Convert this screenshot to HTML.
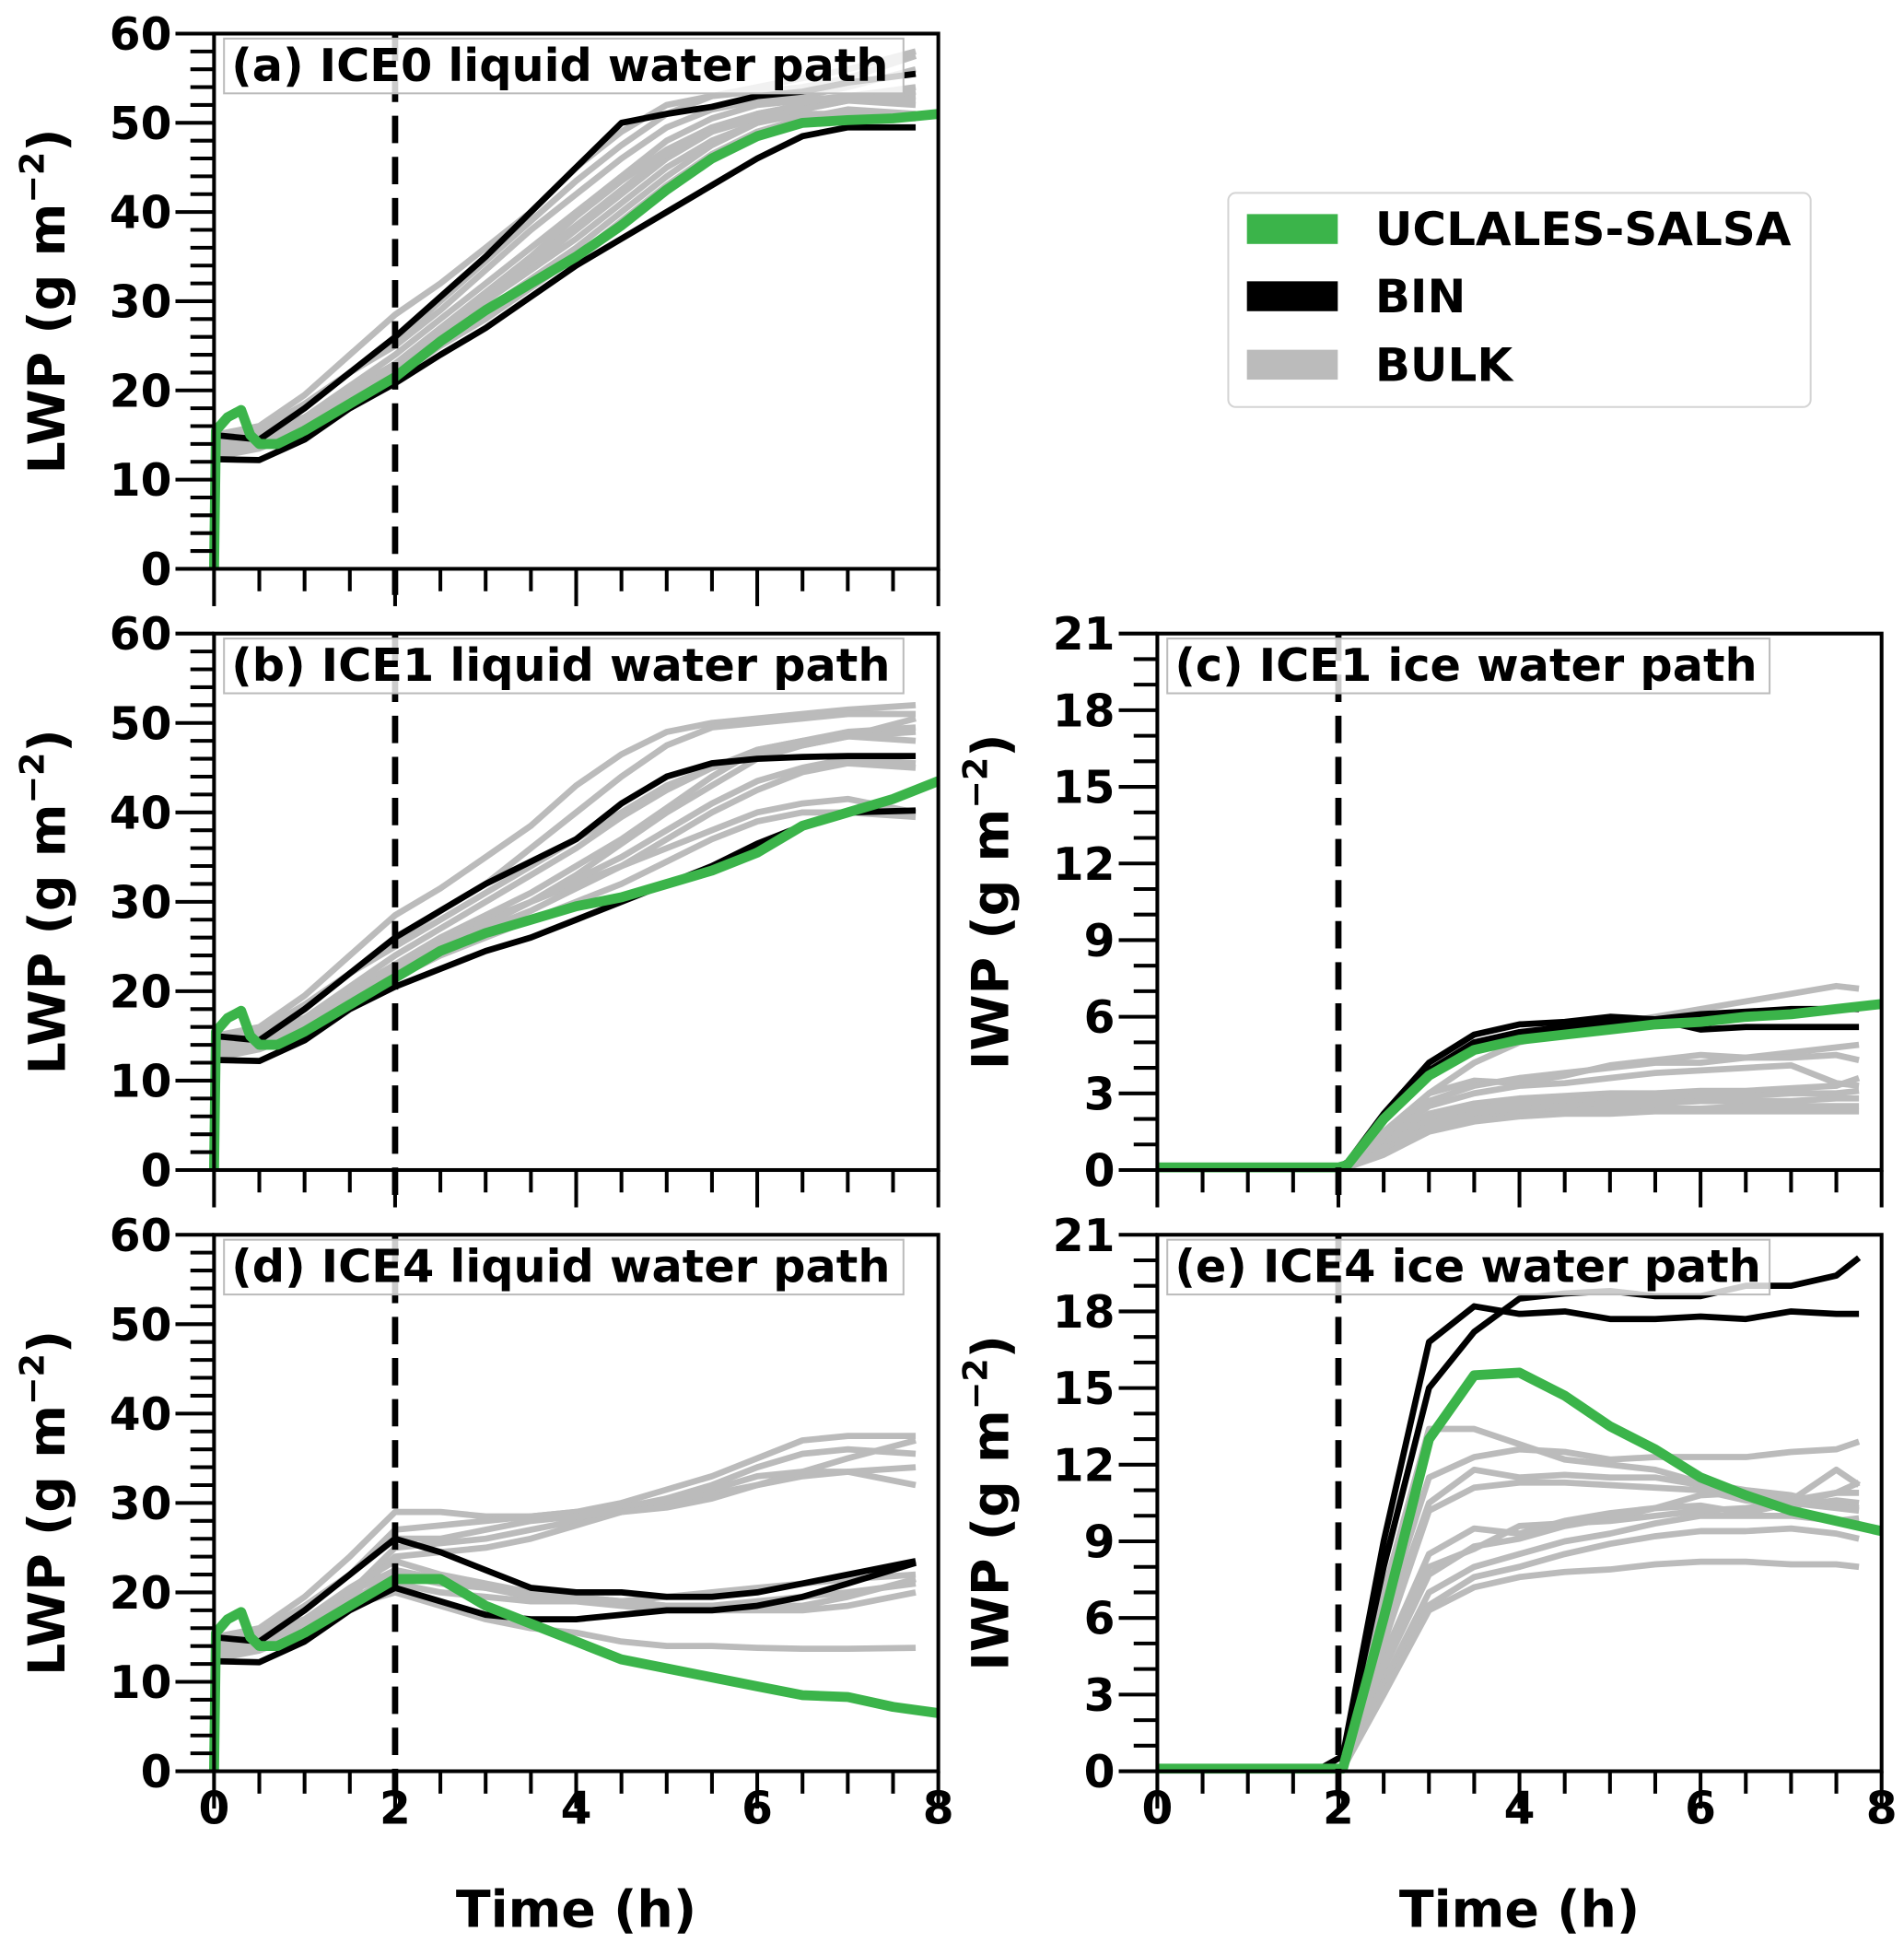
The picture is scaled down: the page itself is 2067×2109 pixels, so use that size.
<!DOCTYPE html>
<html><head><meta charset="utf-8"><style>
html,body{margin:0;padding:0;background:#fff;}
svg{display:block;font-family:"DejaVu Sans","Liberation Sans",sans-serif;font-weight:bold;}
</style></head><body>
<svg id="fig" width="2067" height="2109" viewBox="0 0 1530 1561" preserveAspectRatio="none" xmlns="http://www.w3.org/2000/svg">
<g>
<rect x="987" y="155" width="468" height="172" rx="6" fill="#fff" stroke="#d4d4d4" stroke-width="1.5"/>
<rect x="1002" y="172" width="73" height="24" fill="#3bb44a"/>
<rect x="1002" y="226" width="73" height="24" fill="#000"/>
<rect x="1002" y="281" width="73" height="24" fill="#bbbbbb"/>
<text x="1105" y="197" font-size="37">UCLALES-SALSA</text>
<text x="1105" y="251" font-size="37">BIN</text>
<text x="1105" y="306" font-size="37">BULK</text>
</g>
</svg>
<script>
// ---- data ----
const tG=[0,0.02,0.15,0.3,0.4,0.5,0.7,1,1.5,2,2.5,3,3.5,4,4.5,5,5.5,6,6.5,7,7.5,8];
const tS=[0,0.5,1,1.5,2,2.5,3,3.5,4,4.5,5,5.5,6,6.5,7,7.75];
const aGreen=[0,15.5,17,17.8,15,14,14,15.5,18.5,21.5,25.5,29,32,35,38.5,42.5,46,48.5,50,50.3,50.5,51];
const aBin1=[15,14.5,18,22,26,30.5,35,40,45,50,51,51.8,53,53.5,54.5,55.5];
const aBin2=[12.3,12.2,14.5,18,20.8,24,27,30.5,34,37,40,43,46,48.5,49.5,49.5];
const aBulk=[
[15,16,19.5,24,28.5,32,36,40,45,49,52,53,53.5,54,55,57.5],
[15,15.5,18,22,25.5,30,34.5,39,43.5,47.5,51,53,54,55,56,58],
[14,15,17,20,23,27,31,35,39.5,43.5,47,49.5,51,52,53,54],
[13,14,16.5,19.5,22.5,26,30,34,38,42,46,49,51,52,53,53],
[13,14,16,19,22,25.5,29,32.5,36,40,44,47.5,50,51.5,52.5,52],
[14,15,17,20,23,26.5,30,33.5,37,41,45,48,50,51,51,50.5],
[12.5,13.5,15.5,18.5,21.5,25,28,31.5,35,39,43,46.5,49,50.5,51.5,51],
[15,15.5,18.5,22,25,29,33.5,38,42,46,49.5,51.5,52.5,53,54,56],
[13.5,14.5,16.5,19.5,22.5,26.5,30.5,34.5,38.5,42.5,46.5,49,50.5,51.5,52.5,53.5],
[14.5,15,17,20.5,24,28,32,36,40,44,48,50.5,52,52.5,53,52.5]];
const bGreen=[0,15.5,17,17.8,15,14,14,15.5,18.5,21.5,24.5,26.5,28,29.5,30.5,32,33.5,35.5,38.5,40,41.5,43.5];
const bBin1=[15,14.5,18,22,26,29,32,34.5,37,41,44,45.5,46,46.2,46.3,46.3];
const bBin2=[12.3,12.2,14.5,18,20.5,22.5,24.5,26,28,30,32,34,36.5,38.5,40,40.2];
const bBulk=[
[15,16,19.5,24,28.5,31.5,35,38.5,43,46.5,49,50,50.5,51,51.5,52],
[15,15.5,18,22,25.5,29,32,36,40,44,47.5,49.5,50,50.5,51,51],
[14,15,17,20,23,26,28.5,31,34,37,40.5,44,47,48,49,49.5],
[13,14,16.5,19.5,22.5,25,27.5,30,33,36.5,40,43,46,47.5,48.5,49],
[13,14,16,19,22,24.5,27,29,31.5,34,37,40,42.5,44.5,45.5,45],
[14,15,17,20,23,25.5,28,30,32,34,36,38,40,41,41.5,40],
[12.5,13.5,15.5,18.5,21.5,24,26,28,30,32,34.5,37,39,40,40,39.5],
[15,15.5,18.5,22,25,28,31,34,37,40,43,45,46.5,47.5,48.5,50.5],
[13.5,14.5,16.5,19.5,22.5,25,27.5,30,32.5,35,38,41,43.5,45,46,45.5],
[14.5,15,17,20.5,24,27,30,33,36,39.5,42.5,45,47,48,48.5,48]];
const dGreen=[0,15.5,17,17.8,15,14,14,15.5,18.5,21.5,21.5,18.5,16.5,14.5,12.5,11.5,10.5,9.5,8.5,8.3,7.2,6.5];
const dBin1=[15,14.5,18,22,26,24.5,22.5,20.5,20,20,19.5,19.5,20,21,22,23.5];
const dBin2=[12.3,12.2,14.5,18,20.5,19,17.5,17,17,17.5,18,18,18.5,19.5,21,23.3];
const dBulk=[
[15,16,19.5,24,29,29,28.5,28.5,29,30,31.5,33,35,37,37.5,37.5],
[15,15.5,18,22,27,27.5,28,28.5,29,29.5,30.5,32,34,35.5,36,35.5],
[14,15,17,20,25,25.5,26,27,28,29,30.5,31.5,33,33.5,33.5,34],
[13,14,16.5,19.5,24,24.5,25,26,27.5,29,30,31,32,33,33.5,32],
[13,14,16,19,22,21,20.5,20,19.5,19,18.5,18.5,19,19.5,20,21],
[14,15,17,20,22.5,21.5,20.5,19.5,19,18.5,18,18,18,18,18.5,20],
[12.5,13.5,15.5,18.5,20,18.5,17,16,15.5,14.5,14,14,13.8,13.7,13.7,13.8],
[15,15.5,18.5,22,26,26,27,28,28.5,29,29.5,30.5,32,33.5,35,37],
[13.5,14.5,16.5,19.5,21,20,19.5,19,19,19,19.5,20,20.5,21,21.5,22],
[14.5,15,17,20.5,23.5,22,21,20,19.5,19,18.5,18.5,18.5,18.5,19.5,21.5]];
const tI=[0,2,2.1,2.5,3,3.5,4,4.5,5,5.5,6,6.5,7,7.5,7.75];
const tIG=[0,2,2.1,2.5,3,3.5,4,4.5,5,5.5,6,6.5,7,7.5,8];
const cGreen=[0.1,0.1,0.2,2,3.7,4.7,5.1,5.3,5.5,5.7,5.8,6,6.1,6.3,6.5];
const cBin1=[0.1,0.1,0.3,2.2,4.2,5.3,5.7,5.8,6,5.9,5.5,5.6,5.6,5.6,5.6];
const cBin2=[0.1,0.1,0.3,2,3.9,5,5.4,5.6,5.8,5.9,6.1,6.2,6.3,6.3,6.3];
const cBulk=[
[0.1,0.1,0.1,1.5,3.0,3.5,3.4,3.7,4.1,4.3,4.5,4.4,4.6,4.8,4.9],
[0.1,0.1,0.1,1.3,2.7,3.3,3.6,3.8,4.0,4.2,4.2,4.4,4.4,4.5,4.3],
[0.1,0.1,0.1,1.2,2.5,3.0,3.3,3.4,3.6,3.8,3.9,4.0,4.1,3.4,3.3],
[0.1,0.1,0.1,1.0,2.2,2.6,2.8,2.9,3.0,3.0,3.1,3.1,3.2,3.3,3.6],
[0.1,0.1,0.1,0.9,2.0,2.4,2.6,2.7,2.8,2.8,2.9,2.9,3.0,3.0,3.1],
[0.1,0.1,0.1,0.8,1.8,2.2,2.4,2.5,2.6,2.6,2.7,2.7,2.7,2.8,2.8],
[0.1,0.1,0.1,0.7,1.7,2.0,2.2,2.3,2.4,2.4,2.4,2.5,2.5,2.5,2.5],
[0.1,0.1,0.1,0.6,1.5,1.9,2.1,2.2,2.2,2.3,2.3,2.3,2.3,2.3,2.3],
[0.1,0.1,0.1,1.3,3.0,4.2,5.0,5.4,5.7,6.0,6.3,6.6,6.9,7.2,7.1]];
const tE=[0,1.8,2.05,2.5,3,3.5,4,4.5,5,5.5,6,6.5,7,7.5,7.75];
const tEG=[0,1.8,2.05,2.5,3,3.5,4,4.5,5,5.5,6,6.5,7,7.5,8];
const eGreen=[0.1,0.1,0.1,6,13,15.5,15.6,14.7,13.5,12.6,11.5,10.8,10.2,9.8,9.4];
const eBin1=[0.1,0.1,0.6,8,15,17.2,18.5,18.7,18.8,18.6,18.6,19,19,19.4,20.1];
const eBin2=[0.1,0.1,0.6,9,16.8,18.2,17.9,18,17.7,17.7,17.8,17.7,18,17.9,17.9];
const eBulk=[
[0.1,0.1,0.1,7,13.4,13.4,12.8,12.2,12,11.8,11.3,11,10.8,10.4,10.3],
[0.1,0.1,0.1,6,11.5,12.3,12.6,12.5,12.2,12.3,12.3,12.3,12.5,12.6,12.9],
[0.1,0.1,0.1,5.5,10.5,11.8,11.5,11.6,11.5,11.5,11.2,10.8,10.6,11.8,11.2],
[0.1,0.1,0.1,5,10.2,11.1,11.3,11.3,11.2,11.1,11,10.6,10.4,10.6,10.5],
[0.1,0.1,0.1,4.5,8.5,9.5,9.3,9.8,10.1,10.3,10.8,10.9,10.6,10.9,11.3],
[0.1,0.1,0.1,4,7.7,8.8,9.1,9.6,9.9,10.3,10.4,10.1,10.5,10.3,10.2],
[0.1,0.1,0.1,3.5,7,8,8.5,9,9.3,9.7,10,10,10,9.8,9.9],
[0.1,0.1,0.1,3.3,6.5,7.6,8,8.5,8.9,9.2,9.4,9.4,9.5,9.3,9.1],
[0.1,0.1,0.1,3,6.3,7.2,7.6,7.8,7.9,8.1,8.2,8.2,8.1,8.1,8.0],
[0.1,0.1,0.1,4.2,8,8.7,9.6,9.7,9.8,10.0,10.2,10.3,10.5,10.9,10.9]];
const xTicks=[0,2,4,6,8];
const lwpTicks=[0,10,20,30,40,50,60];
const iwpTicks=[0,3,6,9,12,15,18,21];

const NS="http://www.w3.org/2000/svg";
const svg=document.getElementById('fig');
function mk(tag,attrs,parent){const e=document.createElementNS(NS,tag);for(const k in attrs)e.setAttribute(k,attrs[k]);(parent||svg).appendChild(e);return e;}

function panel(p){
  const g=mk('g',{});
  
  
  const X=t=>p.x0+(p.x1-p.x0)*t/8;
  const Y=v=>p.y1-(p.y1-p.y0)*v/p.ymax;
  const line=(ts,vs,col,w,name)=>{
    const d=ts.map((t,i)=>(i?'L':'M')+X(t).toFixed(1)+' '+Y(vs[i]).toFixed(1)).join(' ');
    const e=mk('path',{d:d,fill:'none',stroke:col,'stroke-width':w,'stroke-linejoin':'round','stroke-linecap':'butt'},g);
    
    
  };
  p.bulk.forEach((s,i)=>line(p.ts,s,'#bbbbbb',5,'bulk-line-'+(i+1)));
  line(p.ts,p.bin1,'#000',5,'bin-line-1');
  line(p.ts,p.bin2,'#000',5,'bin-line-2');
  line(p.tg,p.green,'#3bb44a',8,'uclales-salsa-line');
  const dl=mk('line',{x1:X(2),x2:X(2),y1:p.y0,y2:p.y1+30,stroke:'#000','stroke-width':5,'stroke-dasharray':'22,11'},g);
  
  
  mk('rect',{x:p.x0,y:p.y0,width:p.x1-p.x0,height:p.y1-p.y0,fill:'none',stroke:'#000','stroke-width':3},g);
  for(let k=0;k<=16;k++){const t=k/2;const maj=(k%4===0);
    mk('line',{x1:X(t),x2:X(t),y1:p.y1,y2:p.y1+(maj?30:18),stroke:'#000','stroke-width':3},g);}
  if(p.xlabels){xTicks.forEach(t=>{const e=mk('text',{x:X(t),y:p.y1+42,'font-size':36,'text-anchor':'middle'},g);e.textContent=t;
    });
    const xl=mk('text',{x:(p.x0+p.x1)/2,y:1548,'font-size':41,'text-anchor':'middle'},g);xl.textContent='Time (h)';
    }
  for(let v=0;v<=p.ymax+1e-9;v+=p.minor){const maj=p.ticks.some(t=>Math.abs(t-v)<1e-6);
    mk('line',{x1:p.x0,x2:p.x0-(maj?31:19),y1:Y(v),y2:Y(v),stroke:'#000','stroke-width':3},g);}
  p.ticks.forEach(v=>{const e=mk('text',{x:p.x0-34,y:Y(v)+13,'font-size':36,'text-anchor':'end'},g);e.textContent=v;
    });
  const cy=(p.y0+p.y1)/2;
  const yl=mk('text',{x:p.ylx,y:cy,'font-size':41,'text-anchor':'middle',transform:'rotate(-90 '+p.ylx+' '+cy+')'},g);
  yl.innerHTML=p.ylab+' (g m<tspan font-size="27" dy="-17">−2</tspan><tspan dy="17">)</tspan>';
  
  const tb=mk('rect',{x:p.x0+8,y:p.y0+4,width:p.tw,height:44,fill:'#fff','fill-opacity':0.8,stroke:'#bbbbbb','stroke-width':1.5},g);
  
  const tt=mk('text',{x:p.x0+14,y:p.y0+38,'font-size':36.5},g);tt.textContent=p.title;
  
}
panel({id:'a',x0:172,x1:754,y0:27,y1:457,ymax:60,minor:2,ticks:lwpTicks,ylab:'LWP',ylx:52,title:'(a) ICE0 liquid water path',tw:546,
  ts:tS,tg:tG,green:aGreen,bin1:aBin1,bin2:aBin2,bulk:aBulk,xlabels:false});
panel({id:'b',x0:172,x1:754,y0:509,y1:940,ymax:60,minor:2,ticks:lwpTicks,ylab:'LWP',ylx:52,title:'(b) ICE1 liquid water path',tw:546,
  ts:tS,tg:tG,green:bGreen,bin1:bBin1,bin2:bBin2,bulk:bBulk,xlabels:false});
panel({id:'d',x0:172,x1:754,y0:992,y1:1423,ymax:60,minor:2,ticks:lwpTicks,ylab:'LWP',ylx:52,title:'(d) ICE4 liquid water path',tw:546,
  ts:tS,tg:tG,green:dGreen,bin1:dBin1,bin2:dBin2,bulk:dBulk,xlabels:true});
panel({id:'c',x0:930,x1:1512,y0:509,y1:940,ymax:21,minor:1,ticks:iwpTicks,ylab:'IWP',ylx:810,title:'(c) ICE1 ice water path',tw:484,
  ts:tI,tg:tIG,green:cGreen,bin1:cBin1,bin2:cBin2,bulk:cBulk,xlabels:false});
panel({id:'e',x0:930,x1:1512,y0:992,y1:1423,ymax:21,minor:1,ticks:iwpTicks,ylab:'IWP',ylx:810,title:'(e) ICE4 ice water path',tw:484,
  ts:tE,tg:tEG,green:eGreen,bin1:eBin1,bin2:eBin2,bulk:eBulk,xlabels:true});
</script>
</body></html>
